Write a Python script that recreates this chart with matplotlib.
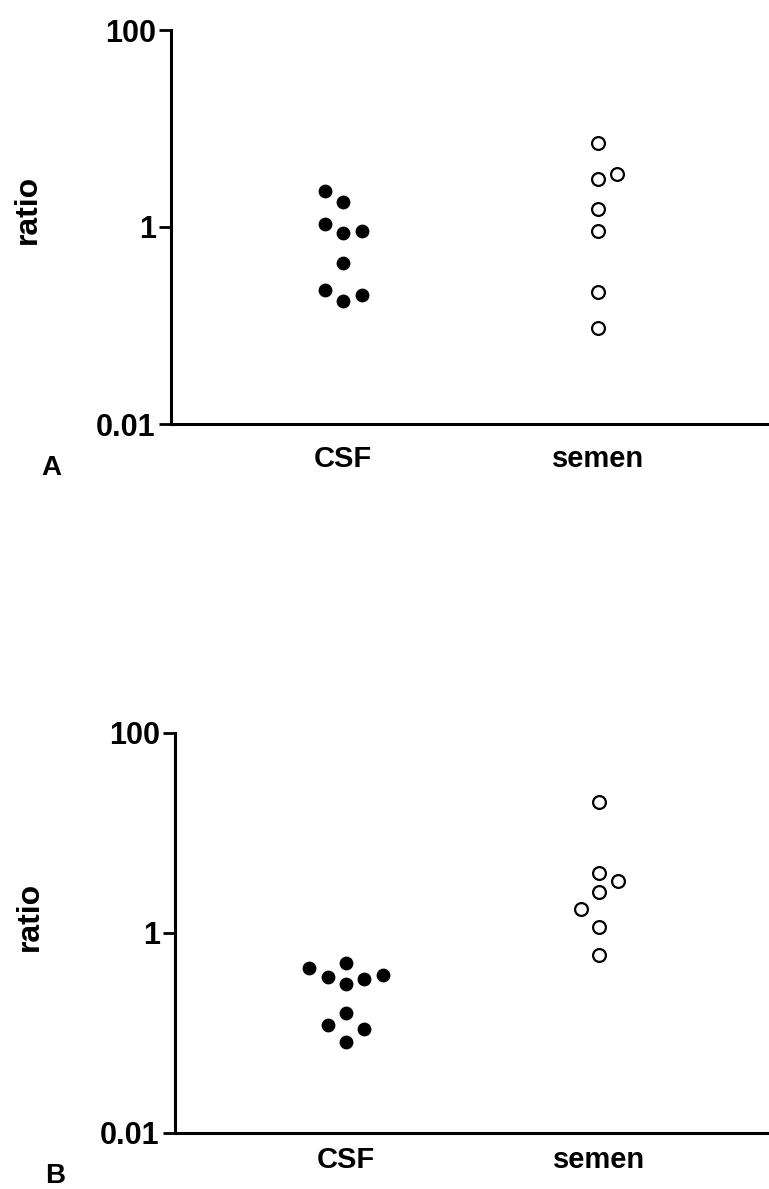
import matplotlib
matplotlib.use("Agg")
import matplotlib.pyplot as plt
import numpy as np

plt.rcParams['font.family'] = ['Liberation Sans', 'DejaVu Sans']
plt.rcParams['font.weight'] = 'bold'

categories = ["CSF", "semen"]
y_ticks = [0.01, 1, 100]
y_tick_labels = ["0.01", "1", "100"]

# panel A
a_csf = [2.34, 1.78, 1.07, 0.86, 0.92, 0.43, 0.23, 0.179, 0.204]
a_csf_col = [-1, 0, -1, 0, 1, 0, -1, 0, 1]
a_semen = [7.2, 3.05, 3.45, 1.51, 0.91, 0.217, 0.094]
a_semen_col = [0, 0, 1, 0, 0, 0, 0]

# panel B
b_csf = [0.443, 0.366, 0.50, 0.307, 0.347, 0.38, 0.16, 0.12, 0.109, 0.081]
b_csf_col = [-2, -1, 0, 0, 1, 2, 0, -1, 1, 0]
b_semen = [20.6, 4.0, 3.3, 2.59, 1.73, 1.16, 0.60]
b_semen_col = [0, 0, 1, 0, -1, 0, 0]

W, H = 769, 1189
fig = plt.figure(figsize=(W / 100, H / 100), dpi=100)

step = 0.0725


def panel(rect, csf, csf_col, semen, semen_col, letter, letter_xy, ylab_xy, xpad):
    ax = fig.add_axes(rect)
    ax.set_yscale('log')
    ax.set_ylim(0.01, 100)
    ax.set_xlim(0.325, 2.67)

    ax.scatter(1 + np.array(csf_col) * step, csf, s=80, color='black',
               edgecolors='black', zorder=3, clip_on=False)
    ax.scatter(2 + np.array(semen_col) * step, semen, s=85, facecolors='white',
               edgecolors='black', linewidths=1.6, zorder=3, clip_on=False)

    for side in ['top', 'right']:
        ax.spines[side].set_visible(False)
    for side in ['left', 'bottom']:
        ax.spines[side].set_linewidth(2.2)

    ax.set_yticks(y_ticks)
    ax.set_yticklabels(y_tick_labels)
    ax.yaxis.set_minor_locator(matplotlib.ticker.NullLocator())
    ax.tick_params(axis='y', length=9, width=2.0, pad=2, labelsize=22)
    ax.set_xticks([1, 2])
    ax.set_xticklabels(categories)
    ax.tick_params(axis='x', length=0, pad=xpad, labelsize=21)

    fig.text(ylab_xy[0] / W, 1 - ylab_xy[1] / H, "ratio", rotation=90,
             ha='center', va='center', fontsize=23, fontweight='bold')
    fig.text(letter_xy[0] / W, 1 - letter_xy[1] / H, letter,
             ha='center', va='center', fontsize=20, fontweight='bold')
    return ax


panel([171 / W, 1 - 424 / H, 1 - 171 / W, 394 / H],
      a_csf, a_csf_col, a_semen, a_semen_col, "A", (51, 468), (28, 209), 15)
panel([175 / W, 1 - 1133 / H, 1 - 175 / W, 400 / H],
      b_csf, b_csf_col, b_semen, b_semen_col, "B", (55, 1176), (30, 916), 9)

fig.savefig("out.png", dpi=100)
